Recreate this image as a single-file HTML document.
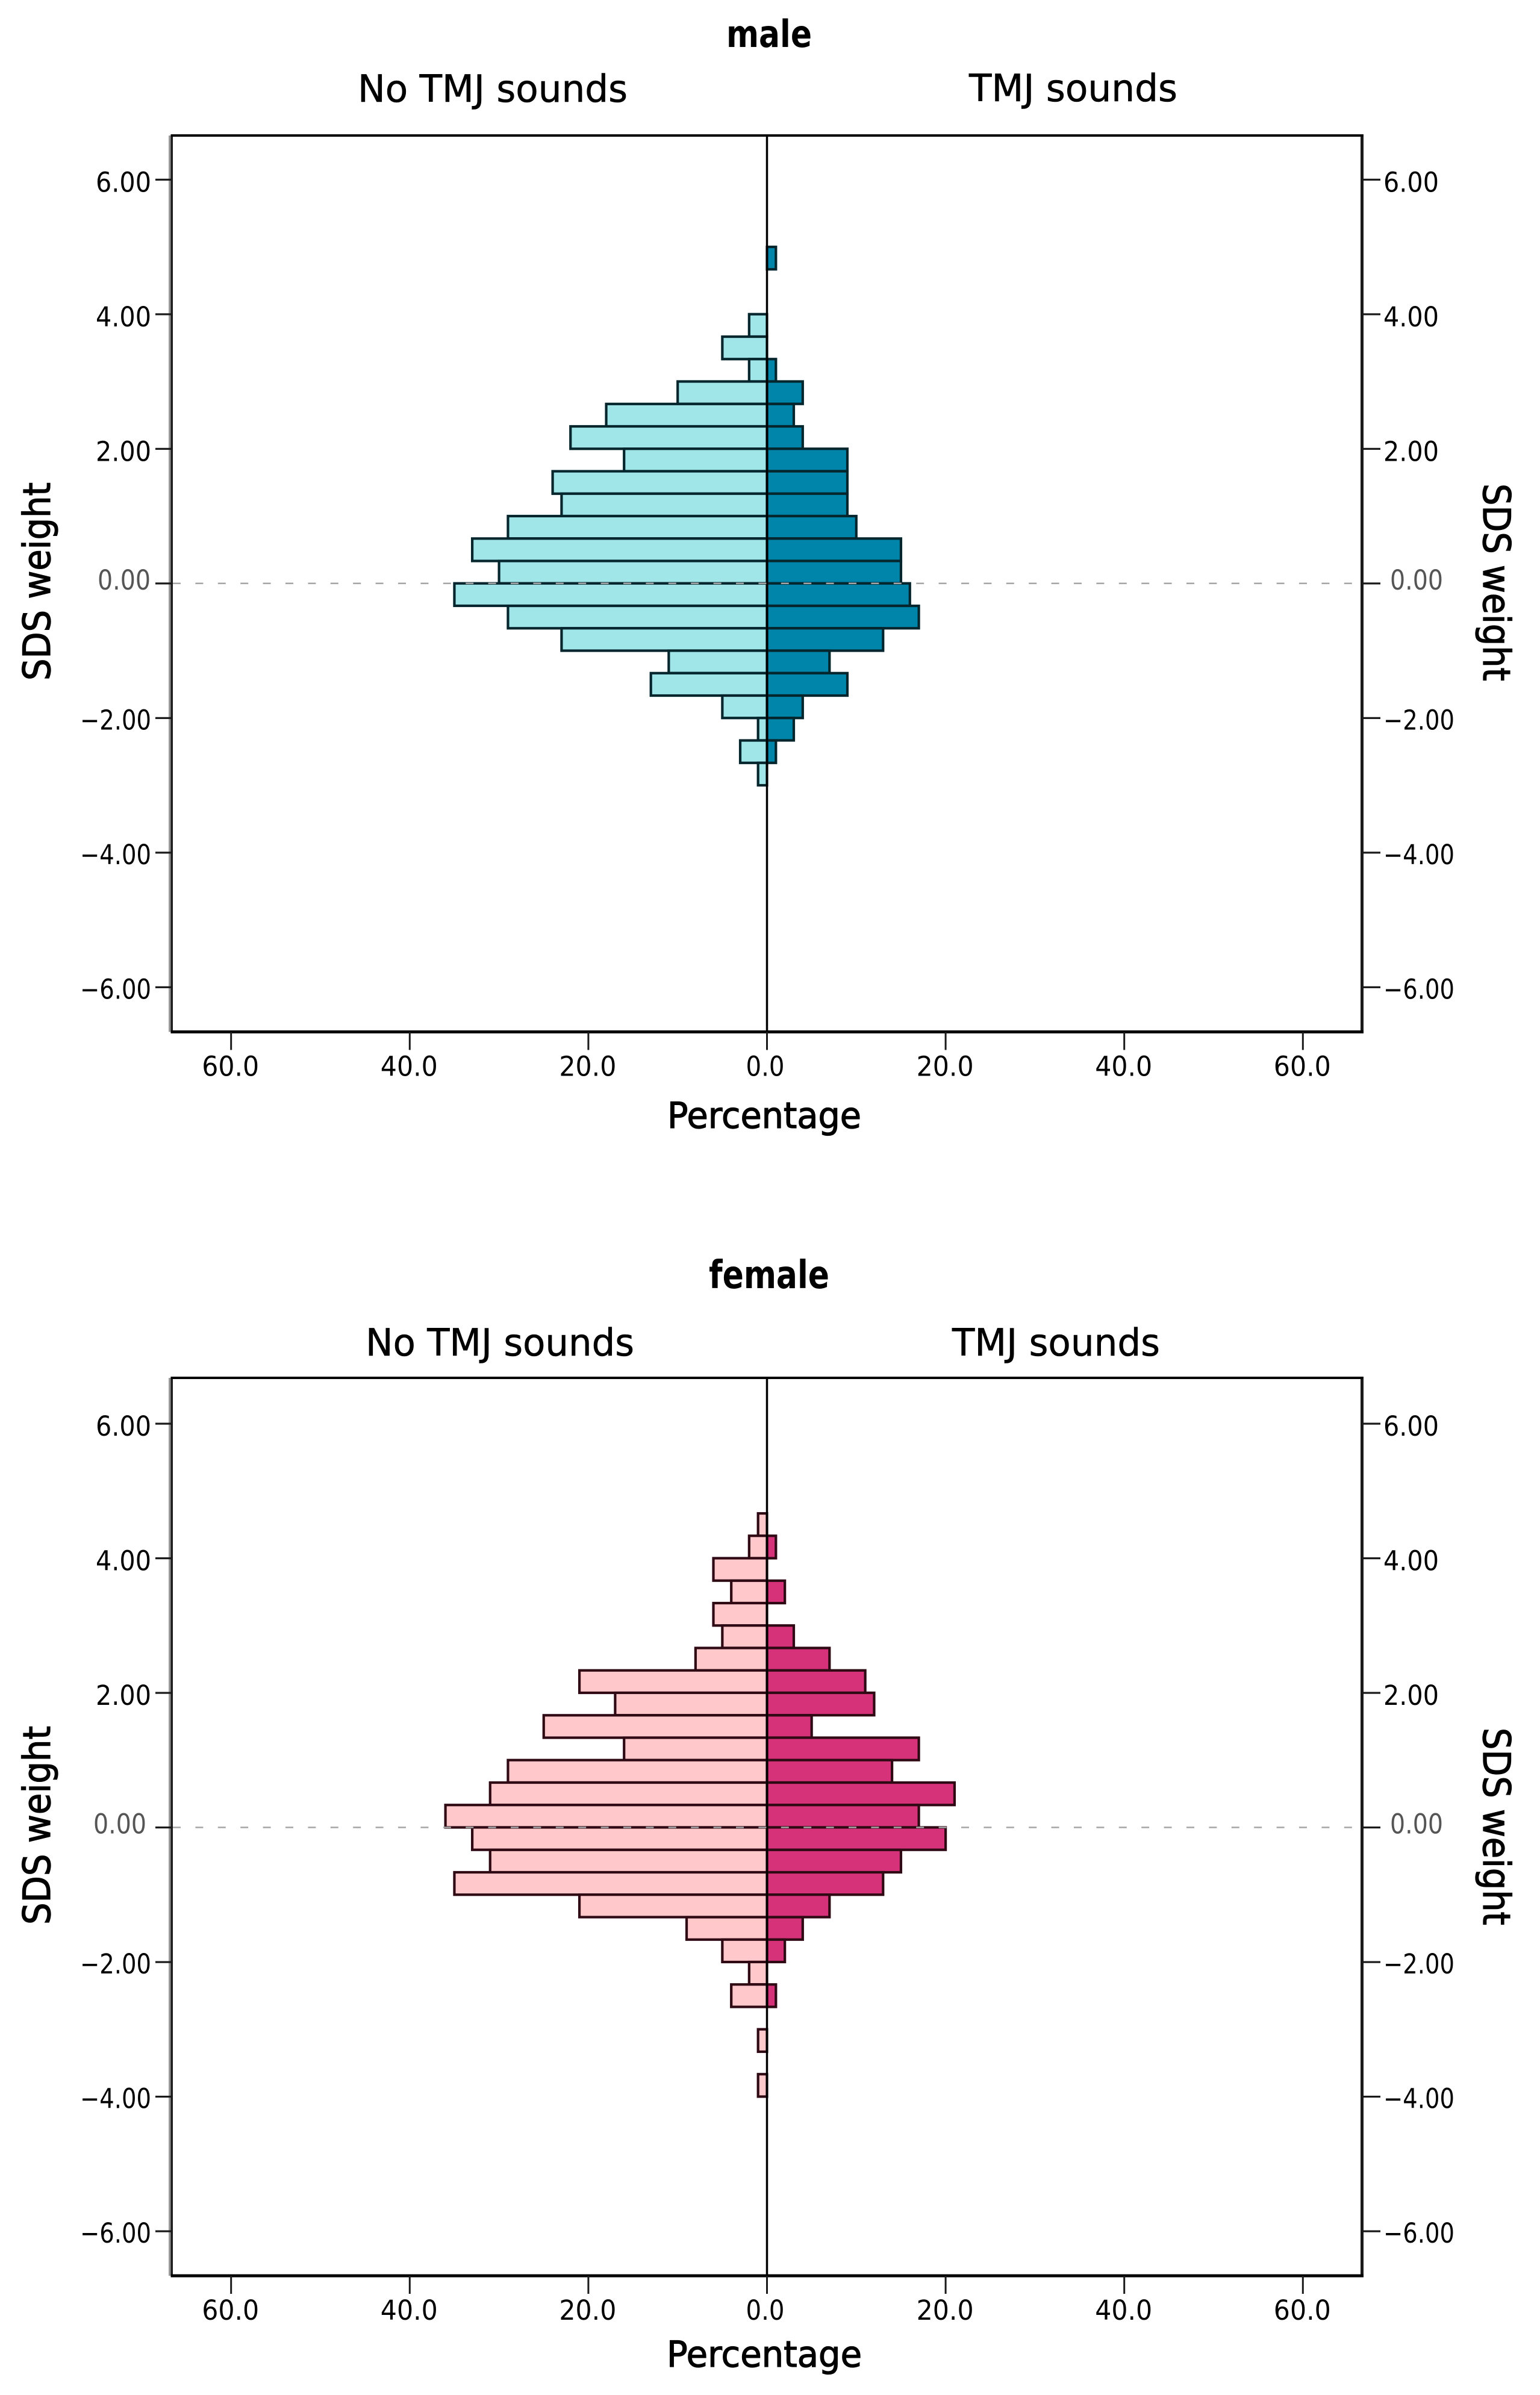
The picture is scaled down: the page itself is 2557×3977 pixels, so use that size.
<!DOCTYPE html>
<html lang="en">
<head>
<meta charset="utf-8">
<title>SDS weight by TMJ sounds and sex</title>
<style>
html,body{margin:0;padding:0;background:#fff;width:2557px;height:3977px;overflow:hidden}
svg{display:block}
text{font-family:"DejaVu Sans","Liberation Sans",sans-serif;fill:#000}
.heavy{stroke:#000;stroke-width:1.3px}
.medium{stroke:#000;stroke-width:0.6px}
</style>
</head>
<body>
<svg id="chart" xmlns="http://www.w3.org/2000/svg" width="2557" height="3977" viewBox="0 0 2557 3977">
  <rect x="0" y="0" width="2557" height="3977" fill="#ffffff"/>

  <text x="1206" y="78" font-size="62" font-weight="700" textLength="142" lengthAdjust="spacingAndGlyphs">male</text>
  <text class="medium" x="594" y="169" font-size="62" textLength="448" lengthAdjust="spacingAndGlyphs">No TMJ sounds</text>
  <text class="medium" x="1609" y="168" font-size="62" textLength="346" lengthAdjust="spacingAndGlyphs">TMJ sounds</text>
  <text class="heavy" x="1108" y="1873" font-size="60" textLength="322" lengthAdjust="spacingAndGlyphs">Percentage</text>
  <text class="heavy" transform="translate(83,1130) rotate(-90)" font-size="62" textLength="329" lengthAdjust="spacingAndGlyphs">SDS weight</text>
  <text class="heavy" transform="translate(2463,803) rotate(90)" font-size="62" textLength="328" lengthAdjust="spacingAndGlyphs">SDS weight</text>

  <text x="1177" y="2139" font-size="64" font-weight="700" textLength="200" lengthAdjust="spacingAndGlyphs">female</text>
  <text class="medium" x="607" y="2251" font-size="62" textLength="446" lengthAdjust="spacingAndGlyphs">No TMJ sounds</text>
  <text class="medium" x="1581" y="2251" font-size="62" textLength="345" lengthAdjust="spacingAndGlyphs">TMJ sounds</text>
  <text class="heavy" x="1107" y="3930" font-size="60" textLength="324" lengthAdjust="spacingAndGlyphs">Percentage</text>
  <text class="heavy" transform="translate(83,3196) rotate(-90)" font-size="62" textLength="330" lengthAdjust="spacingAndGlyphs">SDS weight</text>
  <text class="heavy" transform="translate(2463,2869) rotate(90)" font-size="62" textLength="328" lengthAdjust="spacingAndGlyphs">SDS weight</text>
</svg>
<script>
// Lower edge of each SDS weight bin (bins are one third of a unit wide)
var binLower = [4.667, 4.333, 4, 3.667, 3.333, 3, 2.667, 2.333, 2, 1.667, 1.333, 1, 0.667, 0.333, 0, -0.333, -0.667, -1, -1.333, -1.667, -2, -2.333, -2.667, -3, -3.333, -3.667, -4];
var binWidth = 0.3333;

// Percentages, same order as binLower
var maleNoTmj   = [0, 0, 0, 2, 5, 2, 10, 18, 22, 16, 24, 23, 29, 33, 30, 35, 29, 23, 11, 13, 5, 1, 3, 1, 0, 0, 0];
var maleTmj     = [1, 0, 0, 0, 0, 1, 4, 3, 4, 9, 9, 9, 10, 15, 15, 16, 17, 13, 7, 9, 4, 3, 1, 0, 0, 0, 0];
var femaleNoTmj = [0, 1, 2, 6, 4, 6, 5, 8, 21, 17, 25, 16, 29, 31, 36, 33, 31, 35, 21, 9, 5, 2, 4, 0, 1, 0, 1];
var femaleTmj   = [0, 0, 1, 0, 2, 0, 3, 7, 11, 12, 5, 17, 14, 21, 17, 20, 15, 13, 7, 4, 2, 0, 1, 0, 0, 0, 0];

// Axis ticks and their printed labels
var yTicks = [6, 4, 2, 0, -2, -4, -6];
var yTickLabels = ['6.00', '4.00', '2.00', '0.00', '\u22122.00', '\u22124.00', '\u22126.00'];
var xTicks = [60, 40, 20, 0];
var xTickLabels = ['60.0', '40.0', '20.0', '0.0'];

var NS = 'http://www.w3.org/2000/svg';
var svg = document.getElementById('chart');
var PX_PER_UNIT = 111.75;
var PX_PER_PCT = 14.83;
var CENTER_X = 1273.5;
var AXIS_LEFT = 285;
var AXIS_RIGHT = 2262;

function pctX(side, pct) { return CENTER_X + side * pct * PX_PER_PCT; }
function sdsY(zeroY, v) { return zeroY - v * PX_PER_UNIT; }

function make(tag, attrs) {
  var el = document.createElementNS(NS, tag);
  for (var k in attrs) { el.setAttribute(k, attrs[k]); }
  svg.appendChild(el);
  return el;
}

function drawBars(zeroY, values, side, fill, edge, isTmj) {
  for (var i = 0; i < binLower.length; i++) {
    if (!values[i]) { continue; }
    var x0 = pctX(side, 0);
    var x1 = pctX(side, values[i]);
    var yTop = sdsY(zeroY, binLower[i] + binWidth);
    var yBot = sdsY(zeroY, binLower[i]);
    var bar = make('rect', {
      x: Math.min(x0, x1), y: yTop, width: Math.abs(x1 - x0), height: yBot - yTop,
      fill: fill, stroke: edge, 'stroke-width': 4.2
    });
    
    
  }
}

function drawFrame(topY, bottomY) {
  var grey = make('rect', { x: AXIS_LEFT - 5, y: topY, width: 3.5, height: bottomY - topY, fill: '#999999' });
  
  
  var left = make('rect', { x: AXIS_LEFT - 1.5, y: topY - 2, width: 3.5, height: bottomY - topY + 4, fill: '#1a1a1a' });
  
  
  var right = make('rect', { x: AXIS_RIGHT - 3, y: topY - 2, width: 5, height: bottomY - topY + 4, fill: '#1a1a1a' });
  
  
  var top = make('rect', { x: AXIS_LEFT - 1.5, y: topY - 2, width: AXIS_RIGHT - AXIS_LEFT + 3, height: 4, fill: '#000000' });
  
  
  var bottom = make('rect', { x: AXIS_LEFT - 1.5, y: bottomY - 2.5, width: AXIS_RIGHT - AXIS_LEFT + 3.5, height: 5, fill: '#000000' });
  
  
}

function drawYAxis(zeroY, leftZeroEnd, rightZeroStart) {
  for (var i = 0; i < yTicks.length; i++) {
    var v = yTicks[i];
    var y = sdsY(zeroY, v);
    var isZero = v === 0;
    var tl = make('rect', { x: 258, y: y - 1.5, width: AXIS_LEFT - 258, height: 3.2, fill: '#1a1a1a' });
    
    
    var tr = make('rect', { x: AXIS_RIGHT, y: y - 1.5, width: 30, height: 3.2, fill: '#1a1a1a' });
    
    

    var baseline = y + (isZero ? 10 : (v > 0 ? 20 : 19));
    var len = v < 0 ? 118 : 92;
    var ll = make('text', {
      x: isZero ? leftZeroEnd : 251, y: baseline, 'text-anchor': 'end', 'font-size': 45,
      textLength: isZero ? 88 : len, lengthAdjust: 'spacingAndGlyphs'
    });
    ll.textContent = yTickLabels[i];
    if (isZero) { ll.style.fill = '#555555'; }
    
    

    var rl = make('text', {
      x: isZero ? rightZeroStart : 2297, y: baseline, 'font-size': 45,
      textLength: isZero ? 88 : len, lengthAdjust: 'spacingAndGlyphs'
    });
    rl.textContent = yTickLabels[i];
    if (isZero) { rl.style.fill = '#555555'; }
    
    
  }
}

function drawXAxis(bottomY) {
  var sides = [-1, 1];
  for (var s = 0; s < sides.length; s++) {
    for (var i = 0; i < xTicks.length; i++) {
      if (xTicks[i] === 0 && sides[s] === 1) { continue; }
      var x = pctX(sides[s], xTicks[i]);
      var t = make('rect', { x: x - 1.5, y: bottomY, width: 3, height: 30, fill: '#1a1a1a' });
      
      
      var lab = make('text', {
        x: x + (xTicks[i] === 0 ? -3 : -1), y: bottomY + 73, 'text-anchor': 'middle', 'font-size': 45,
        textLength: xTicks[i] === 0 ? 64 : 95, lengthAdjust: 'spacingAndGlyphs'
      });
      lab.textContent = xTickLabels[i];
      
      
    }
  }
}

function drawPanel(zeroY, topY, bottomY, noTmj, tmj, noFill, tmjFill, edge, leftZeroEnd, rightZeroStart) {
  drawBars(zeroY, tmj, 1, tmjFill, edge, true);
  drawBars(zeroY, noTmj, -1, noFill, edge, false);
  drawFrame(topY, bottomY);

  var center = make('rect', { x: CENTER_X - 1.75, y: topY, width: 3.5, height: bottomY - topY, fill: '#000000' });
  
  

  var dash = make('line', {
    x1: AXIS_LEFT + 2, x2: AXIS_RIGHT - 3, y1: zeroY, y2: zeroY,
    stroke: '#a6a6a6', 'stroke-width': 2.6, 'stroke-dasharray': '13 24.4'
  });
  
  

  drawYAxis(zeroY, leftZeroEnd, rightZeroStart);
  drawXAxis(bottomY);
}

drawPanel(968.75, 225, 1713.5, maleNoTmj, maleTmj, '#a0e6e8', '#0085aa', '#06262e', 250, 2308);
drawPanel(3034.5, 2288, 3779, femaleNoTmj, femaleTmj, '#ffc9cc', '#d6327a', '#2f0a14', 243, 2308);
</script>
</body>
</html>
